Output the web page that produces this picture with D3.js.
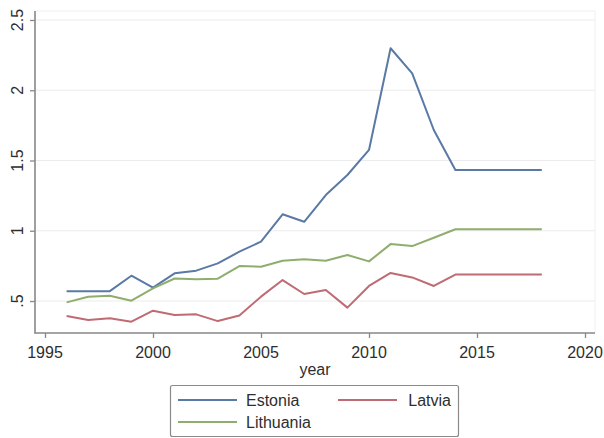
<!DOCTYPE html>
<html>
<head>
<meta charset="utf-8">
<script src="https://cdn.jsdelivr.net/npm/d3@7"></script>
<style>
  html, body { margin: 0; padding: 0; background: #fff; }
  svg { display: block; }
  text { font-family: "Liberation Sans", Arial, sans-serif; fill: #2e2e2e; }
</style>
</head>
<body>
<svg id="chart" width="604" height="438"></svg>
<script>
// Annual values per country, 1996–2018
const years = d3.range(1996, 2019);
const estonia = [0.57, 0.57, 0.57, 0.68, 0.595, 0.697, 0.716, 0.768, 0.851, 0.922, 1.117, 1.064,
  1.254, 1.397, 1.575, 2.299, 2.12, 1.717, 1.432, 1.432, 1.432, 1.432, 1.432];
const latvia = [0.393, 0.365, 0.377, 0.353, 0.431, 0.40, 0.405, 0.357, 0.397, 0.531, 0.649, 0.55,
  0.578, 0.453, 0.607, 0.70, 0.668, 0.607, 0.688, 0.688, 0.688, 0.688, 0.688];
const lithuania = [0.49, 0.53, 0.538, 0.502, 0.59, 0.66, 0.654, 0.659, 0.749, 0.744, 0.787, 0.797,
  0.787, 0.827, 0.782, 0.905, 0.891, 0.95, 1.011, 1.011, 1.011, 1.011, 1.011];

const seriesNames = ["Estonia", "Latvia", "Lithuania"];
const seriesColors = ["#5a79a5", "#bf6b73", "#8fae6d"];
const xTicks = [1995, 2000, 2005, 2010, 2015, 2020];
const yTicks = [0.5, 1, 1.5, 2, 2.5];
const yTickLabels = [".5", "1", "1.5", "2", "2.5"];

const series = [estonia, latvia, lithuania].map((vals, i) => ({
  name: seriesNames[i],
  color: seriesColors[i],
  points: years.map((y, j) => ({ year: y, value: vals[j] }))
}));

const svg = d3.select("#chart");

// plot region
const plot = { left: 35, right: 595, top: 11, bottom: 333 };
const x = d3.scaleLinear().domain([1995, 2020]).range([45, 585]);
const y = d3.scaleLinear().domain([0.5, 2.5]).range([301, 20]);

// faint plot-region outline
svg.append("rect")
  .attr("x", plot.left).attr("y", plot.top)
  .attr("width", plot.right - plot.left).attr("height", plot.bottom - plot.top)
  .attr("fill", "#fff").attr("stroke", "#f0f0f0").attr("stroke-width", 1);

// horizontal gridlines
svg.append("g").selectAll("line").data(yTicks).join("line")
  .attr("x1", plot.left).attr("x2", plot.right)
  .attr("y1", d => y(d)).attr("y2", d => y(d))
  .attr("stroke", "#ececec").attr("stroke-width", 1.2);

// y axis
const yAxis = svg.append("g")
  .attr("transform", `translate(${plot.left},0)`)
  .call(d3.axisLeft(y).tickValues(yTicks).tickSize(5).tickFormat(""));
yAxis.select(".domain").remove();
yAxis.selectAll(".tick line").attr("stroke", "#888").attr("stroke-width", 1.3);
svg.append("line")
  .attr("x1", plot.left).attr("x2", plot.left)
  .attr("y1", plot.top).attr("y2", plot.bottom + 0.5)
  .attr("stroke", "#8a8a8a").attr("stroke-width", 1.6);
svg.append("g").selectAll("text").data(yTicks).join("text")
  .attr("transform", (d) => `translate(23,${y(d)}) rotate(-90)`)
  .attr("text-anchor", "middle")
  .style("font-size", "16px")
  .text((d, i) => yTickLabels[i]);

// x axis
const xAxis = svg.append("g")
  .attr("transform", `translate(0,${plot.bottom})`)
  .call(d3.axisBottom(x).tickValues(xTicks).tickSize(5).tickFormat(""));
xAxis.select(".domain").remove();
xAxis.selectAll(".tick line").attr("stroke", "#888").attr("stroke-width", 1.3);
svg.append("line")
  .attr("x1", plot.left - 0.5).attr("x2", plot.right)
  .attr("y1", plot.bottom).attr("y2", plot.bottom)
  .attr("stroke", "#8a8a8a").attr("stroke-width", 1.6);
svg.append("g").selectAll("text").data(xTicks).join("text")
  .attr("x", d => x(d)).attr("y", 358)
  .attr("text-anchor", "middle")
  .style("font-size", "16px")
  .text(d => d);

svg.append("text")
  .attr("x", (plot.left + plot.right) / 2).attr("y", 375)
  .attr("text-anchor", "middle")
  .style("font-size", "16px")
  .text("year");

// series lines
const line = d3.line().x(d => x(d.year)).y(d => y(d.value));
svg.append("g").selectAll("path").data(series).join("path")
  .attr("d", d => line(d.points))
  .attr("fill", "none")
  .attr("stroke", d => d.color)
  .attr("stroke-width", 2)
  .attr("stroke-linejoin", "round");

// legend
const legend = svg.append("g");
legend.append("rect")
  .attr("x", 170.5).attr("y", 385.5).attr("width", 288).attr("height", 51)
  .attr("rx", 2)
  .attr("fill", "#fff").attr("stroke", "#8a8a8a").attr("stroke-width", 1.2);
const legendPos = [
  { lx: 178, ly: 400 },
  { lx: 338, ly: 400 },
  { lx: 178, ly: 422 }
];
series.forEach((s, i) => {
  const p = legendPos[i];
  legend.append("line")
    .attr("x1", p.lx).attr("x2", p.lx + 59)
    .attr("y1", p.ly).attr("y2", p.ly)
    .attr("stroke", s.color).attr("stroke-width", 2);
  legend.append("text")
    .attr("x", i === 1 ? 451 : p.lx + 68).attr("y", p.ly + 6)
    .attr("text-anchor", i === 1 ? "end" : "start")
    .style("font-size", "16px")
    .text(s.name);
});
</script>
</body>
</html>
